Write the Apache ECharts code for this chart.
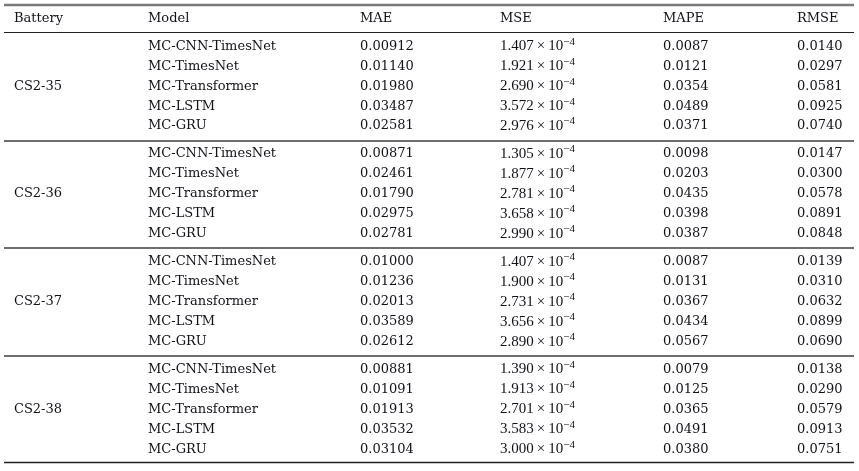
<!DOCTYPE html>
<html>
<head>
<meta charset="utf-8">
<script src="https://cdn.jsdelivr.net/npm/echarts@6/dist/echarts.min.js"></script>
<style>
html,body{margin:0;padding:0;background:#fff;}
#main{width:859px;height:471px;}
</style>
</head>
<body>
<div id="main"></div>
<script>
/*表格数据*/
var headers = ['Battery', 'Model', 'MAE', 'MSE', 'MAPE', 'RMSE'];
var batteries = ['CS2-35', 'CS2-36', 'CS2-37', 'CS2-38'];
var models = ['MC-CNN-TimesNet', 'MC-TimesNet', 'MC-Transformer', 'MC-LSTM', 'MC-GRU'];
var maeData = [
	[0.00912, 0.01140, 0.01980, 0.03487, 0.02581],
	[0.00871, 0.02461, 0.01790, 0.02975, 0.02781],
	[0.01000, 0.01236, 0.02013, 0.03589, 0.02612],
	[0.00881, 0.01091, 0.01913, 0.03532, 0.03104]
];
// MSE 单位 10^-4
var mseData = [
	[1.407, 1.921, 2.690, 3.572, 2.976],
	[1.305, 1.877, 2.781, 3.658, 2.990],
	[1.407, 1.900, 2.731, 3.656, 2.890],
	[1.390, 1.913, 2.701, 3.583, 3.000]
];
var mapeData = [
	[0.0087, 0.0121, 0.0354, 0.0489, 0.0371],
	[0.0098, 0.0203, 0.0435, 0.0398, 0.0387],
	[0.0087, 0.0131, 0.0367, 0.0434, 0.0567],
	[0.0079, 0.0125, 0.0365, 0.0491, 0.0380]
];
var rmseData = [
	[0.0140, 0.0297, 0.0581, 0.0925, 0.0740],
	[0.0147, 0.0300, 0.0578, 0.0891, 0.0848],
	[0.0139, 0.0310, 0.0632, 0.0899, 0.0690],
	[0.0138, 0.0290, 0.0579, 0.0913, 0.0751]
];

/*布局*/
var colX = [14, 148, 360, 500, 663, 797];
var headerY = 18.3;
var firstRowY = 46.3;
var rowStep = 19.95;
var groupStep = 107.75;
var ruleLeft = 4, ruleRight = 854;
var textColor = '#111118';
var serif = '"DejaVu Serif", serif';
var mathFont = '"Liberation Serif", serif';

function rowY(g, r) {
	return firstRowY + g * groupStep + r * rowStep;
}

function textSeries(name, data, fontSize, fontFamily, rich) {
	return {
		name: name,
		type: 'scatter',
		symbolSize: 0,
		silent: true,
		itemStyle: { opacity: 1 },
		data: data,
		label: {
			show: true,
			position: 'right',
			distance: 0,
			opacity: 1,
			color: textColor,
			fontFamily: fontFamily || serif,
			fontSize: fontSize || 13,
			formatter: function(p) {
				return p.value[2];
			},
			rich: rich
		}
	};
}

var headerPts = [], batteryPts = [], modelPts = [], maePts = [], msePts = [], mapePts = [], rmsePts = [];
for(var i = 0; i < headers.length; i++) {
	headerPts.push([colX[i], headerY, headers[i]]);
}
for(var g = 0; g < batteries.length; g++) {
	batteryPts.push([colX[0], rowY(g, 2), batteries[g]]);
	for(var r = 0; r < models.length; r++) {
		var y = rowY(g, r);
		modelPts.push([colX[1], y, models[r]]);
		maePts.push([colX[2], y, maeData[g][r].toFixed(5)]);
		msePts.push([colX[3], y, '{m|' + mseData[g][r].toFixed(3) + '}{x|\u2009×\u2009}{m|10}{s|−4}']);
		mapePts.push([colX[4], y, mapeData[g][r].toFixed(4)]);
		rmsePts.push([colX[5], y, rmseData[g][r].toFixed(4)]);
	}
}

/*横线*/
function rule(y, color, width) {
	return [{
		coord: [ruleLeft, y],
		lineStyle: { color: color, width: width, type: 'solid', opacity: 1 }
	}, {
		coord: [ruleRight, y]
	}];
}
var rules = [rule(4.6, '#7a7a7a', 2.4), rule(32.6, '#222', 1.2)];
for(var g = 1; g < batteries.length; g++) {
	rules.push(rule(firstRowY + g * groupStep - 13.6, '#6e6e6e', 1.8));
}
rules.push(rule(firstRowY + (batteries.length - 1) * groupStep + 4 * rowStep + 13.2, '#222', 1.3));

var mseRich = {
	m: { fontFamily: mathFont, fontSize: 15, lineHeight: 20, color: textColor },
	x: { fontFamily: mathFont, fontSize: 15, lineHeight: 20, color: textColor },
	s: { fontFamily: mathFont, fontSize: 11, lineHeight: 10, verticalAlign: 'top', color: textColor }
};

var series = [
	textSeries('header', headerPts),
	textSeries('battery', batteryPts),
	textSeries('model', modelPts),
	textSeries('mae', maePts),
	textSeries('mse', msePts, 15, mathFont, mseRich),
	textSeries('mape', mapePts),
	textSeries('rmse', rmsePts)
];
series[0].markLine = {
	silent: true,
	symbol: 'none',
	label: { show: false },
	data: rules
};

var chart = echarts.init(document.getElementById('main'));
chart.setOption({
	animation: false,
	backgroundColor: '#fff',
	grid: { left: 0, right: 0, top: 0, bottom: 0 },
	xAxis: { type: 'value', min: 0, max: 859, show: false },
	yAxis: { type: 'value', min: 0, max: 471, inverse: true, show: false },
	series: series
});
</script>
</body>
</html>
